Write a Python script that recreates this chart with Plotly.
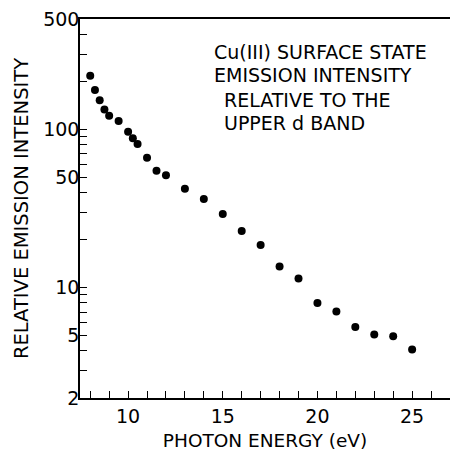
import numpy as np
import plotly.graph_objects as go

# Data
photon_energy = [8.0, 8.25, 8.5, 8.75, 9.0, 9.5, 10.0, 10.25, 10.5, 11.0, 11.5, 12.0,
                 13.0, 14.0, 15.0, 16.0, 17.0, 18.0, 19.0, 20.0, 21.0, 22.0, 23.0, 24.0, 25.0]
intensity = [219, 178, 153, 134, 122, 113, 96.8, 88, 81, 66.2, 54.8, 51.3,
             42.2, 36.3, 29.2, 22.8, 18.6, 13.6, 11.4, 7.97, 7.06, 5.62, 5.05, 4.91, 4.06]

x_major_ticks = [10, 15, 20, 25]
y_major_ticks = [2, 5, 10, 50, 100, 500]
y_minor_ticks = [3, 4, 6, 7, 8, 9, 20, 30, 40, 60, 70, 80, 90, 200, 300, 400]
note_lines = ["Cu(III) SURFACE STATE", "EMISSION INTENSITY", "RELATIVE TO THE", "UPPER d BAND"]

FONT = "DejaVu Sans"

fig = go.Figure()
fig.add_trace(go.Scatter(
    x=photon_energy, y=intensity, mode="markers",
    marker=dict(size=8, color="black"), showlegend=False,
))

note_x = [0.357, 0.357, 0.384, 0.384]
note_y = [0.914, 0.851, 0.786, 0.725]
for t, xx, yy in zip(note_lines, note_x, note_y):
    fig.add_annotation(text=t, x=xx, y=yy, xref="paper", yref="paper",
                       xanchor="left", yanchor="middle", showarrow=False,
                       font=dict(family=FONT, size=19, color="black"))

fig.update_layout(
    width=450, height=451,
    margin=dict(l=80, r=0, t=19, b=53),
    paper_bgcolor="white", plot_bgcolor="white",
    font=dict(family=FONT, color="black"),
    xaxis=dict(
        range=[7.46, 27.0], showgrid=False, zeroline=False,
        showline=True, linecolor="black", linewidth=1.6, mirror=True,
        tickmode="array", tickvals=x_major_ticks,
        ticks="inside", ticklen=7, tickwidth=1.3, tickcolor="black",
        minor=dict(dtick=1, tick0=0, ticks="inside", ticklen=7, tickwidth=1.3, tickcolor="black"),
        tickfont=dict(family=FONT, size=19, color="black"),
        title=dict(text="PHOTON ENERGY (eV)", font=dict(family=FONT, size=18.5, color="black"), standoff=12),
    ),
    yaxis=dict(
        type="log", range=[np.log10(2), np.log10(500)], showgrid=False, zeroline=False,
        showline=True, linecolor="black", linewidth=1.6, mirror=False,
        tickmode="array", tickvals=y_major_ticks, ticktext=[str(v) for v in y_major_ticks],
        ticks="inside", ticklen=7, tickwidth=1.3, tickcolor="black",
        ticklabelstandoff=-5,
        minor=dict(tickmode="array", tickvals=y_minor_ticks, ticks="inside", ticklen=7,
                   tickwidth=1.3, tickcolor="black"),
        tickfont=dict(family=FONT, size=19, color="black"),
        title=dict(text="RELATIVE EMISSION INTENSITY", font=dict(family=FONT, size=19.5, color="black"), standoff=9),
    ),
)

fig.write_html("out.html")
